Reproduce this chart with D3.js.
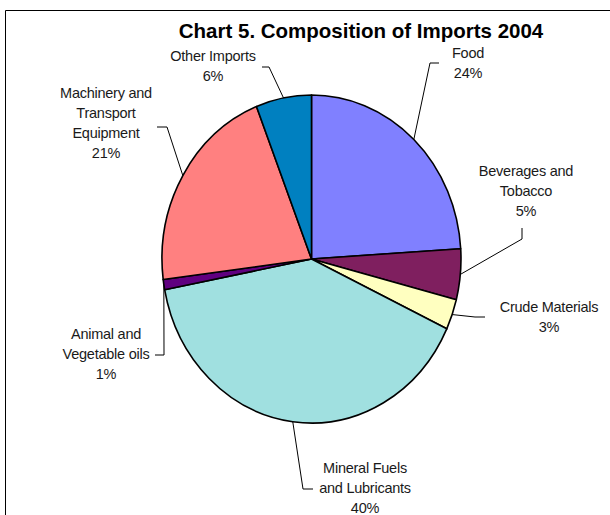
<!DOCTYPE html>
<html>
<head>
<meta charset="utf-8">
<script src="https://cdn.jsdelivr.net/npm/d3@7"></script>
<style>
  html, body { margin: 0; padding: 0; background: #fff; }
  svg { display: block; }
  .lbl { font-family: "Liberation Sans", Arial, sans-serif; font-size: 14.5px; fill: #1a1a1a; letter-spacing: -0.25px; }
  .title { font-family: "Liberation Sans", Arial, sans-serif; font-size: 20.5px; font-weight: bold; fill: #000; }
</style>
</head>
<body>
<script>
// Import categories and their shares (%) for 2004
const categories = [
  "Food",
  "Beverages and Tobacco",
  "Crude Materials",
  "Mineral Fuels and Lubricants",
  "Animal and Vegetable oils",
  "Machinery and Transport Equipment",
  "Other Imports"
];
const shares = [24, 5, 3, 40, 1, 21, 6];
// How each category name breaks into lines on the chart
const labelLines = [
  ["Food"],
  ["Beverages and", "Tobacco"],
  ["Crude Materials"],
  ["Mineral Fuels", "and Lubricants"],
  ["Animal and", "Vegetable oils"],
  ["Machinery and", "Transport", "Equipment"],
  ["Other Imports"]
];
const sliceColors = ["#8080FF", "#7F1F5F", "#FFFFC0", "#A0E0E0", "#600080", "#FF8080", "#0080C0"];

const W = 610, H = 515;
const cx = 311.5, cy = 259, rx = 149.5, ry = 164;

// Label blocks: text centre x, first baseline y, and the leader path bend/end points
const labelLayout = [
  { x: 468, y: 58,  bend: [430, 63],  end: [439, 63] },
  { x: 526, y: 176, bend: [522, 239], end: [522, 228] },
  { x: 549, y: 312, bend: [475, 317], end: [485, 317] },
  { x: 365, y: 473, bend: [303, 489], end: [313, 489] },
  { x: 106, y: 339, bend: [164, 355], end: [155, 355] },
  { x: 106, y: 98,  bend: [167, 127], end: [157, 127] },
  { x: 213, y: 61,  bend: [269, 67],  end: [262, 67] }
];

const svg = d3.select("body").append("svg").attr("width", W).attr("height", H);

// Chart frame (top and left edges visible)
svg.append("path")
  .attr("d", `M5.5,${H} L5.5,10.5 L${W},10.5`)
  .attr("fill", "none").attr("stroke", "#000").attr("stroke-width", 1);

svg.append("text").attr("class", "title")
  .attr("x", 361).attr("y", 38).attr("text-anchor", "middle")
  .text("Chart 5. Composition of Imports 2004");

const pie = d3.pie().sort(null).value(d => d)(shares);
const R = 100;
const arc = d3.arc().innerRadius(0).outerRadius(R);

const g = svg.append("g")
  .attr("transform", `translate(${cx},${cy}) scale(${rx / R},${ry / R})`);

g.selectAll("path.slice").data(pie).join("path")
  .attr("class", "slice")
  .attr("d", arc)
  .attr("fill", (d, i) => sliceColors[i])
  .attr("stroke", "#000")
  .attr("stroke-width", 1.6)
  .attr("stroke-linejoin", "round")
  .attr("vector-effect", "non-scaling-stroke");

// Leader lines from each slice's outer mid-point to its label
const edgePoint = a => [cx + rx * Math.sin(a), cy - ry * Math.cos(a)];
svg.selectAll("path.leader").data(pie).join("path")
  .attr("class", "leader")
  .attr("d", (d, i) => {
    const p = edgePoint((d.startAngle + d.endAngle) / 2);
    const L = labelLayout[i];
    return d3.line()([p, L.bend, L.end]);
  })
  .attr("fill", "none").attr("stroke", "#000").attr("stroke-width", 1);

// Category labels with percentages
const lblG = svg.selectAll("g.lblg").data(pie).join("g").attr("class", "lblg");
lblG.each(function (d, i) {
  const L = labelLayout[i];
  const lines = labelLines[i].concat([d3.format(".0f")(d.value) + "%"]);
  const t = d3.select(this).append("text").attr("class", "lbl").attr("text-anchor", "middle");
  lines.forEach((s, k) => {
    t.append("tspan").attr("x", L.x).attr("y", L.y + k * 20).text(s);
  });
});
</script>
</body>
</html>
